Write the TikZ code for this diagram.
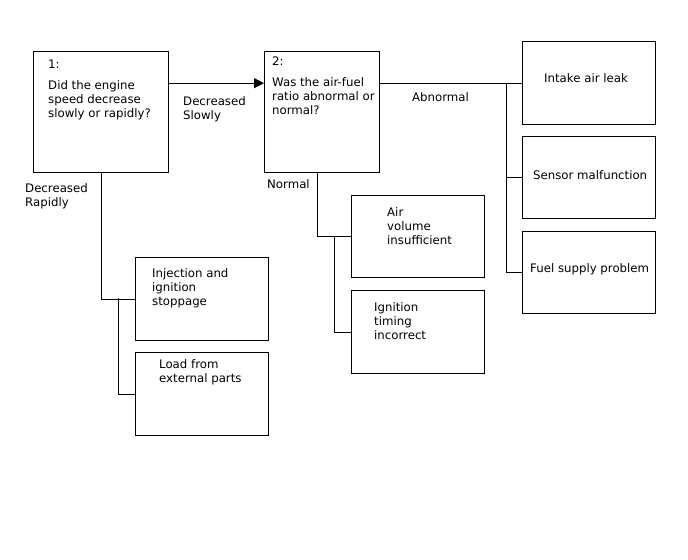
\documentclass[tikz,border=0pt]{standalone}
\usepackage{fontspec}
\setmainfont{DejaVu Sans}
\usetikzlibrary{arrows.meta}
\tikzset{
  stepbox/.style={draw,line width=1.3bp,inner sep=0pt,anchor=north west},
  txt/.style={anchor=north west,inner sep=0pt,align=left,font=\fontsize{11.8}{14}\selectfont},
  link/.style={line width=0.9bp}
}
% box with upper left corner (#2,#3), lower right corner (#4,#5)
\newcommand{\stepnode}[5]{%
  \node[stepbox,minimum width={(#4-#2)*1bp},minimum height={(#5-#3)*1bp}] (#1) at (#2,#3) {};}
\begin{document}
\begin{tikzpicture}[x=1bp,y=-1bp]
  \useasboundingbox (0,0) rectangle (688,560);
  % questions
  \stepnode{qspeed}{33}{51}{168}{172}
  \stepnode{qratio}{264}{51}{379}{172}
  % causes
  \stepnode{leak}{522}{41}{655}{124}
  \stepnode{sensor}{522}{136}{655}{218}
  \stepnode{fuel}{522}{231}{655}{313}
  \stepnode{inject}{135}{257}{268}{340}
  \stepnode{load}{135}{352}{268}{435}
  \stepnode{airvol}{351}{195}{484}{277}
  \stepnode{timing}{351}{290}{484}{373}
  % texts
  \node[txt] (tspeed) at (48,60) {1:\\[7pt]Did the engine\\speed decrease\\slowly or rapidly?};
  \node[txt] (tratio) at (272,57) {2:\\[7pt]Was the air-fuel\\ratio abnormal or\\normal?};
  \node[txt] (tslow) at (183,96) {Decreased\\Slowly};
  \node[txt] (trapid) at (25,183) {Decreased\\Rapidly};
  \node[txt] (tabn) at (412,92) {Abnormal};
  \node[txt] (tnorm) at (267,179) {Normal};
  \node[txt] (tleak) at (544,73) {Intake air leak};
  \node[txt] (tsensor) at (533,170) {Sensor malfunction};
  \node[txt] (tfuel) at (530,263) {Fuel supply problem};
  \node[txt] (tinject) at (152,268) {Injection and\\ignition\\stoppage};
  \node[txt] (tload) at (159,359) {Load from\\external parts};
  \node[txt] (tairvol) at (387,207) {Air\\volume\\insufficient};
  \node[txt] (ttiming) at (374,302) {Ignition\\timing\\incorrect};
  % connectors
  \coordinate (jrapid) at (118,298);
  \coordinate (jnorm) at (317,172);
  \coordinate (jnorm2) at (334,237);
  \coordinate (jabn) at (506,83);
  \draw[link,-{Triangle[length=10bp,width=10bp]}] (qspeed.east |- leak.west) -- (qratio.west |- leak.west);
  \draw[link] (qspeed.south) |- (inject.west);
  \draw[link] (jrapid) |- (load.west);
  \draw[link] (jnorm) |- (airvol.west);
  \draw[link] (jnorm2) |- (timing.west);
  \draw[link] (qratio.east |- leak.west) -- (leak.west);
  \draw[link] (jabn) |- (sensor.west);
  \draw[link] (jabn) |- (fuel.west);
\end{tikzpicture}
\end{document}
